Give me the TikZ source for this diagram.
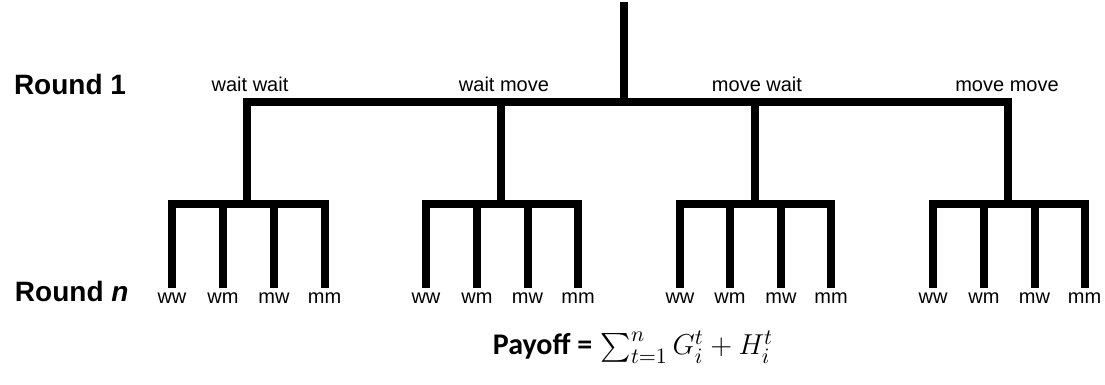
\documentclass[tikz,border=0pt]{standalone}
\usepackage{amsmath}
\usepackage{fontspec}
\setmainfont{Liberation Sans}
\newfontfamily\calfont{Carlito}
\usetikzlibrary{positioning}

\begin{document}
\begin{tikzpicture}[x=0.5pt, y=-0.5pt, line width=4pt, line join=miter,
    leaf/.style={font=\fontsize{10}{12}\selectfont, inner sep=0pt, outer sep=2.5pt, anchor=north},
    pair/.style={font=\fontsize{10}{12}\selectfont, inner sep=0pt, anchor=base},
    roundlbl/.style={font=\fontsize{14}{17}\selectfont\bfseries, inner sep=0pt, anchor=base west}]
    \useasboundingbox (0,0) rectangle (1105,385);

    % round 1
    \coordinate (r) at (624,2);
    \coordinate (j) at (624,102);
    \coordinate (j1) at (247,102);
    \coordinate (j2) at (501,102);
    \coordinate (j3) at (755,102);
    \coordinate (j4) at (1008,102);
    \coordinate (d1) at (247,204);
    \coordinate (d2) at (501,204);
    \coordinate (d3) at (755,204);
    \coordinate (d4) at (1008,204);

    \node[roundlbl] (round1) at (10,95) {Round 1};
    \node[roundlbl] (roundn) at (11,301) {Round \textit{n}};

    \node[pair] (ww) at (250,92) {wait wait};
    \node[pair] (wm) at (504,92) {wait move};
    \node[pair] (mw) at (757,92) {move wait};
    \node[pair] (mm) at (1007,92) {move move};

    % round n
    \node[leaf] (1) at (172,288) {ww};
    \node[leaf] (2) at (223,288) {wm};
    \node[leaf] (3) at (274,288) {mw};
    \node[leaf] (4) at (324.5,288) {mm};
    \node[leaf] (5) at (426,288) {ww};
    \node[leaf] (6) at (477,288) {wm};
    \node[leaf] (7) at (527.5,288) {mw};
    \node[leaf] (8) at (578,288) {mm};
    \node[leaf] (9) at (680,288) {ww};
    \node[leaf] (10) at (730,288) {wm};
    \node[leaf] (11) at (781,288) {mw};
    \node[leaf] (12) at (831,288) {mm};
    \node[leaf] (13) at (933,288) {ww};
    \node[leaf] (14) at (984,288) {wm};
    \node[leaf] (15) at (1034.5,288) {mw};
    \node[leaf] (16) at (1084.5,288) {mm};

    \node[inner sep=0pt, anchor=base] (pay) at (633,355)
        {\fontsize{15}{18}\selectfont{\calfont\bfseries Payoff =} $\sum_{t=1}^{n} G_i^t + H_i^t$};

    \draw (r) -- (j);
    \draw (d1) -- (j1) -- (j4) -- (d4);
    \draw (j2) -- (d2);
    \draw (j3) -- (d3);

    \draw (1.north) |- (d1) -| (4.north);
    \draw (2.north) -- (2.north |- d1);
    \draw (3.north) -- (3.north |- d1);
    \draw (5.north) |- (d2) -| (8.north);
    \draw (6.north) -- (6.north |- d2);
    \draw (7.north) -- (7.north |- d2);
    \draw (9.north) |- (d3) -| (12.north);
    \draw (10.north) -- (10.north |- d3);
    \draw (11.north) -- (11.north |- d3);
    \draw (13.north) |- (d4) -| (16.north);
    \draw (14.north) -- (14.north |- d4);
    \draw (15.north) -- (15.north |- d4);
\end{tikzpicture}
\end{document}
